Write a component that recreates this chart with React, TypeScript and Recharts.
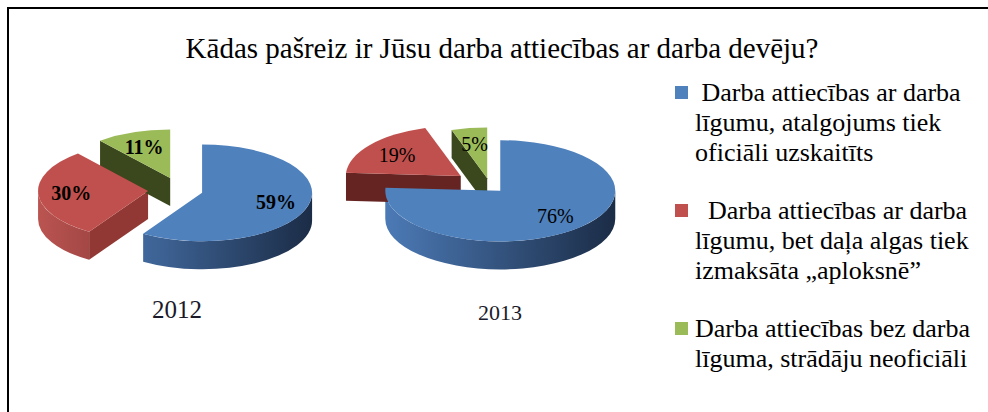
import React from "react";
import { PieChart, Pie, Cell, Legend } from "recharts";

const CATEGORIES = [
  " Darba attiecības ar darba\nlīgumu, atalgojums tiek\noficiāli uzskaitīts",
  "  Darba attiecības ar darba\nlīgumu, bet daļa algas tiek\nizmaksāta „aploksnē”",
  "Darba attiecības bez darba\nlīguma, strādāju neoficiāli",
];
const YEARS = ["2012", "2013"];
const VALUES_2012 = [59, 30, 11];
const VALUES_2013 = [76, 19, 5];

const TITLE = "Kādas pašreiz ir Jūsu darba attiecības ar darba devēju?";

// styles
const COLORS = ["#4F81BD", "#C0504D", "#9BBB59"];
const WALL_LIGHT = ["#4C7AB6", "#BA5451", "#5C6D31"];
const WALL_DARK = ["#1B2C46", "#5A1F1E", "#3B471D"];
const RADIAL_LIGHT = ["#3A5C8C", "#913834", "#4A5826"];
const FONT = '"Liberation Serif", "Times New Roman", serif';
const TILT = 0.44;

const PIES = [
  { cx: 180, cy: 190, r: 110, depth: 28, explode: [23, 32, 29], bold: true },
  { cx: 490, cy: 186, r: 115, depth: 28, explode: [15, 37, 18], bold: false },
];

const rad = (d: number) => (d * Math.PI) / 180;

function mix(a: string, b: string, t: number) {
  const pa = [1, 3, 5].map((i) => parseInt(a.slice(i, i + 2), 16));
  const pb = [1, 3, 5].map((i) => parseInt(b.slice(i, i + 2), 16));
  return "rgb(" + pa.map((v, i) => Math.round(v + (pb[i] - v) * t)).join(",") + ")";
}

function geom(p: any, explode: number[]) {
  const rx = p.outerRadius;
  const ry = rx * TILT;
  const lo = Math.min(p.startAngle, p.endAngle);
  const hi = Math.max(p.startAngle, p.endAngle);
  const mid = (lo + hi) / 2;
  const e = explode[p.index] ?? 0;
  const vx = p.cx + e * Math.cos(rad(mid));
  const vy = p.cy - e * TILT * Math.sin(rad(mid));
  const at = (a: number): [number, number] => [vx + rx * Math.cos(rad(a)), vy - ry * Math.sin(rad(a))];
  return { rx, ry, lo, hi, mid, vx, vy, at };
}

function makeSides(tag: string, explode: number[], depth: number) {
  return (p: any) => {
    const g = geom(p, explode);
    const i = p.index;
    const gid = `wall-${tag}-${i}`;
    const out: React.ReactNode[] = [];

    const radial = (a: number, normal: number, key: string) => {
      const [x, y] = g.at(a);
      const f = Math.pow(Math.max(0, Math.cos(rad(normal - 330))), 2);
      out.push(
        <path
          key={key}
          d={`M${g.vx},${g.vy} L${x},${y} L${x},${y + depth} L${g.vx},${g.vy + depth} Z`}
          fill={mix(WALL_DARK[i], RADIAL_LIGHT[i], f)}
        />
      );
    };
    if (Math.cos(rad(g.hi)) < -1e-6) radial(g.hi, g.hi + 90, "hi");
    if (Math.cos(rad(g.lo)) > 1e-6) radial(g.lo, g.lo - 90, "lo");

    for (const n of [-1, 0, 1]) {
      const s = Math.max(g.lo, 180 + 360 * n);
      const e = Math.min(g.hi, 360 + 360 * n);
      if (e - s < 0.01) continue;
      const [x1, y1] = g.at(e);
      const [x2, y2] = g.at(s);
      out.push(
        <path
          key={`c${n}`}
          d={`M${x1},${y1} A${g.rx},${g.ry} 0 0 1 ${x2},${y2} L${x2},${y2 + depth} A${g.rx},${g.ry} 0 0 0 ${x1},${y1 + depth} Z`}
          fill={`url(#${gid})`}
        />
      );
    }

    return (
      <g key={`sides-${tag}-${i}`}>
        <defs>
          <linearGradient id={gid} gradientUnits="userSpaceOnUse" x1={g.vx - g.rx} y1={0} x2={g.vx + g.rx} y2={0}>
            <stop offset="0" stopColor={WALL_LIGHT[i]} />
            <stop offset="1" stopColor={WALL_DARK[i]} />
          </linearGradient>
        </defs>
        {out}
      </g>
    );
  };
}

function makeTops(tag: string, explode: number[], bold: boolean) {
  return (p: any) => {
    const g = geom(p, explode);
    const i = p.index;
    const [x1, y1] = g.at(g.hi);
    const [x2, y2] = g.at(g.lo);
    const large = g.hi - g.lo > 180 ? 1 : 0;
    const lx = g.vx + 0.7 * g.rx * Math.cos(rad(g.mid));
    const ly = g.vy - 0.68 * g.ry * Math.sin(rad(g.mid));
    return (
      <g key={`top-${tag}-${i}`}>
        <path
          d={`M${g.vx},${g.vy} L${x1},${y1} A${g.rx},${g.ry} 0 ${large} 1 ${x2},${y2} Z`}
          fill={COLORS[i]}
        />
        <text
          x={lx}
          y={ly}
          textAnchor="middle"
          dominantBaseline="central"
          fontFamily={FONT}
          fontSize={20}
          fontWeight={bold ? "bold" : "normal"}
          fill="#000"
        >
          {`${p.value}%`}
        </text>
      </g>
    );
  };
}

function LegendContent() {
  return (
    <div style={{ fontFamily: FONT, fontSize: 26, lineHeight: "30px", color: "#000" }}>
      {CATEGORIES.map((label, i) => (
        <div key={i} style={{ position: "relative", paddingLeft: 20, marginBottom: 28, whiteSpace: "pre-wrap" }}>
          <span
            style={{ position: "absolute", left: 0, top: 8, width: 13, height: 13, background: COLORS[i] }}
          />
          {label}
        </div>
      ))}
    </div>
  );
}

export default function App() {
  const series = [VALUES_2012, VALUES_2013].map((vals) =>
    vals.map((v, i) => ({ name: CATEGORIES[i], value: v }))
  );

  return (
    <div style={{ position: "absolute", left: 0, top: 0, width: 988, height: 412, background: "#fff", overflow: "hidden" }}>
      <div
        style={{
          position: "absolute",
          left: 7,
          top: 7,
          width: 990,
          height: 420,
          borderTop: "2px solid #000",
          borderLeft: "2px solid #000",
        }}
      />
      <div
        style={{
          position: "absolute",
          left: 10,
          top: 32,
          width: 984,
          textAlign: "center",
          fontFamily: FONT,
          fontSize: 29,
          lineHeight: "32px",
          color: "#000",
        }}
      >
        {TITLE}
      </div>

      <div style={{ position: "absolute", left: 0, top: 0 }}>
        <PieChart width={988} height={412} margin={{ top: 0, right: 0, bottom: 0, left: 0 }}>
          {PIES.map((cfg, k) => (
            <Pie
              key={`s${k}`}
              data={series[k]}
              dataKey="value"
              nameKey="name"
              cx={cfg.cx}
              cy={cfg.cy}
              outerRadius={cfg.r}
              startAngle={90}
              endAngle={-270}
              fill="none"
              stroke="none"
              legendType="none"
              labelLine={false}
              label={makeSides(YEARS[k], cfg.explode, cfg.depth)}
              isAnimationActive={false}
            />
          ))}
          {PIES.map((cfg, k) => (
            <Pie
              key={`t${k}`}
              data={series[k]}
              dataKey="value"
              nameKey="name"
              cx={cfg.cx}
              cy={cfg.cy}
              outerRadius={cfg.r}
              startAngle={90}
              endAngle={-270}
              fillOpacity={0}
              stroke="none"
              legendType={k === 0 ? "square" : "none"}
              labelLine={false}
              label={makeTops(YEARS[k], cfg.explode, cfg.bold)}
              isAnimationActive={false}
            >
              {series[k].map((_, i) => (
                <Cell key={i} fill={COLORS[i]} />
              ))}
            </Pie>
          ))}
          <Legend
            layout="vertical"
            align="right"
            verticalAlign="middle"
            content={<LegendContent />}
            wrapperStyle={{ position: "absolute", left: 675, top: 78, width: 312 }}
          />
        </PieChart>
      </div>

      {YEARS.map((y, k) => (
        <div
          key={y}
          style={{
            position: "absolute",
            left: [177, 500][k] - 50,
            top: [295, 298][k],
            width: 100,
            textAlign: "center",
            fontFamily: FONT,
            fontSize: [25, 22][k],
            lineHeight: "30px",
            color: "#1a1a2a",
          }}
        >
          {y}
        </div>
      ))}
    </div>
  );
}
